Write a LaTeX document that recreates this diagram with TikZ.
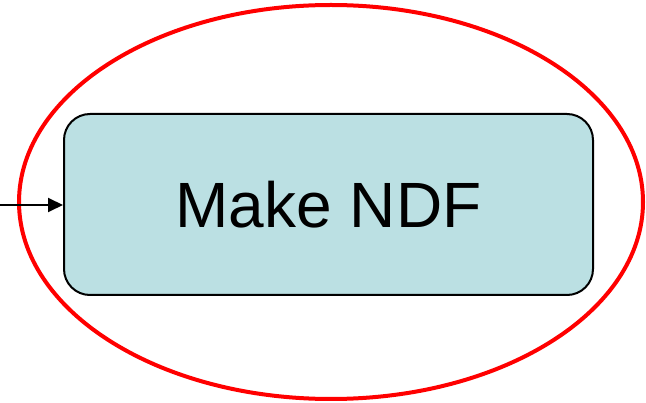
\documentclass[tikz,border=0pt]{standalone}
\usepackage{fontspec}
\setmainfont{Liberation Sans}
\usetikzlibrary{arrows.meta}
\definecolor{boxfill}{HTML}{BBE0E3}
\tikzset{
  procbox/.style={draw=black, line width=2pt, fill=boxfill, rounded corners=26pt,
    minimum width=529pt, minimum height=181pt, inner sep=0pt,
    font=\fontsize{64}{70}\selectfont},
  ring/.style={draw=red, line width=4pt},
  feed/.style={draw=black, line width=2pt, -{Triangle[length=15pt,width=14pt]}}
}
\begin{document}
\begin{tikzpicture}[x=1pt,y=-1pt]
  \useasboundingbox (0,0) rectangle (646,403);
  \node[procbox] (make) at (328.5,204.5) {Make NDF};
  \draw[ring] (331,202) ellipse [x radius=312, y radius=197];
  \coordinate (src) at (0,205);
  \draw[feed] (src) -- (make.west |- src);
\end{tikzpicture}
\end{document}
